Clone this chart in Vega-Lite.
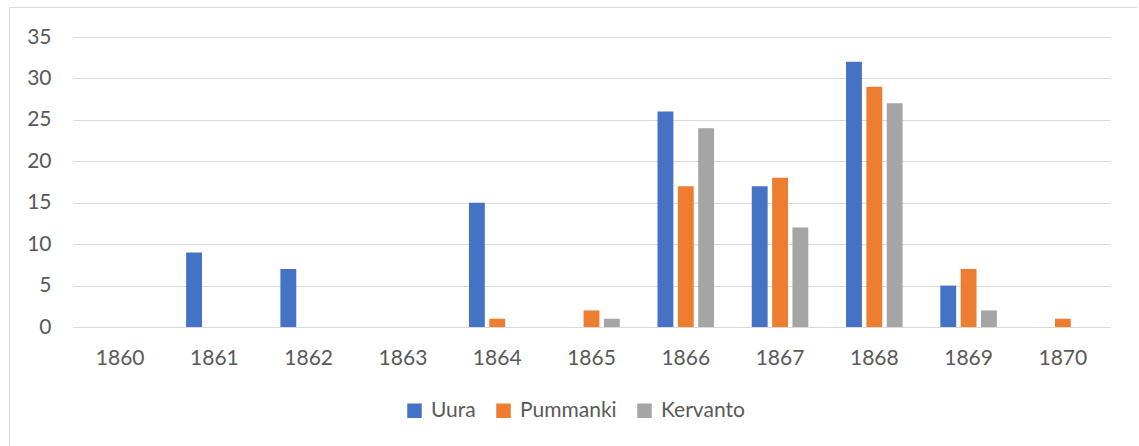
{
  "$schema": "https://vega.github.io/schema/vega-lite/v6.json",
  "width": 1128,
  "height": 441,
  "autosize": {"type": "none"},
  "padding": {"left": 9, "top": 7, "right": 0, "bottom": 0},
  "background": "white",
  "config": {"view": {"stroke": "#d9d9d9", "strokeWidth": 1}, "font": "Lato"},
  "data": {
    "values": [
      {"year": "1860", "series": "Uura", "value": 0},
      {"year": "1860", "series": "Pummanki", "value": 0},
      {"year": "1860", "series": "Kervanto", "value": 0},
      {"year": "1861", "series": "Uura", "value": 9},
      {"year": "1861", "series": "Pummanki", "value": 0},
      {"year": "1861", "series": "Kervanto", "value": 0},
      {"year": "1862", "series": "Uura", "value": 7},
      {"year": "1862", "series": "Pummanki", "value": 0},
      {"year": "1862", "series": "Kervanto", "value": 0},
      {"year": "1863", "series": "Uura", "value": 0},
      {"year": "1863", "series": "Pummanki", "value": 0},
      {"year": "1863", "series": "Kervanto", "value": 0},
      {"year": "1864", "series": "Uura", "value": 15},
      {"year": "1864", "series": "Pummanki", "value": 1},
      {"year": "1864", "series": "Kervanto", "value": 0},
      {"year": "1865", "series": "Uura", "value": 0},
      {"year": "1865", "series": "Pummanki", "value": 2},
      {"year": "1865", "series": "Kervanto", "value": 1},
      {"year": "1866", "series": "Uura", "value": 26},
      {"year": "1866", "series": "Pummanki", "value": 17},
      {"year": "1866", "series": "Kervanto", "value": 24},
      {"year": "1867", "series": "Uura", "value": 17},
      {"year": "1867", "series": "Pummanki", "value": 18},
      {"year": "1867", "series": "Kervanto", "value": 12},
      {"year": "1868", "series": "Uura", "value": 32},
      {"year": "1868", "series": "Pummanki", "value": 29},
      {"year": "1868", "series": "Kervanto", "value": 27},
      {"year": "1869", "series": "Uura", "value": 5},
      {"year": "1869", "series": "Pummanki", "value": 7},
      {"year": "1869", "series": "Kervanto", "value": 2},
      {"year": "1870", "series": "Uura", "value": 0},
      {"year": "1870", "series": "Pummanki", "value": 1},
      {"year": "1870", "series": "Kervanto", "value": 0}
    ]
  },
  "mark": {"type": "bar"},
  "encoding": {
    "x": {
      "field": "year",
      "type": "ordinal",
      "scale": {"range": [64, 1101], "paddingInner": 0.4, "paddingOuter": 0.2},
      "axis": {
        "title": null,
        "orient": "bottom",
        "offset": -121,
        "domainColor": "#d9d9d9",
        "domainWidth": 1,
        "ticks": false,
        "grid": false,
        "labelAngle": 0,
        "labelFont": "Lato",
        "labelFontSize": 21,
        "labelColor": "#595959",
        "labelPadding": 20
      }
    },
    "xOffset": {
      "field": "series",
      "type": "nominal",
      "sort": ["Uura", "Pummanki", "Kervanto"],
      "scale": {"paddingInner": 0.22, "paddingOuter": 0}
    },
    "y": {
      "field": "value",
      "type": "quantitative",
      "scale": {"domain": [0, 35], "range": [320, 30], "nice": false, "zero": true},
      "axis": {
        "title": null,
        "values": [0, 5, 10, 15, 20, 25, 30, 35],
        "offset": -64,
        "domain": false,
        "ticks": false,
        "grid": true,
        "gridColor": "#d9d9d9",
        "gridWidth": 1,
        "labelFont": "Lato",
        "labelFontSize": 21,
        "labelColor": "#595959",
        "labelPadding": 22
      }
    },
    "color": {
      "field": "series",
      "type": "nominal",
      "scale": {"domain": ["Uura", "Pummanki", "Kervanto"], "range": ["#4472C4", "#ED7D31", "#A5A5A5"]},
      "legend": {
        "title": null,
        "orient": "none",
        "legendX": 395,
        "legendY": 393,
        "direction": "horizontal",
        "symbolType": "square",
        "symbolSize": 210,
        "symbolStrokeWidth": 0,
        "labelFont": "Lato",
        "labelFontSize": 21,
        "labelColor": "#595959",
        "labelOffset": 6,
        "columnPadding": 17,
        "padding": 0
      }
    }
  }
}
